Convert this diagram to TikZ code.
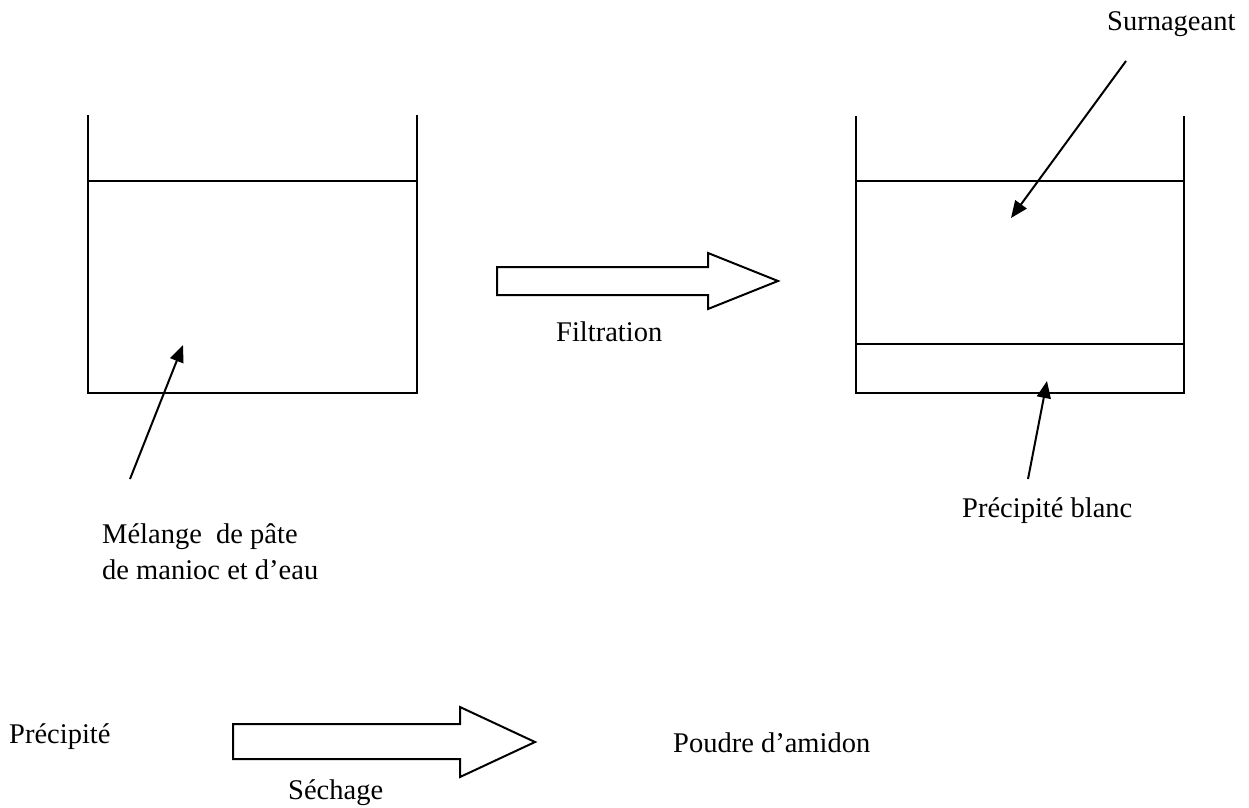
\documentclass[tikz,border=0pt]{standalone}
\usepackage{fontspec}
\setmainfont{Liberation Serif}
\usetikzlibrary{arrows.meta}
\tikzset{
  wall/.style={line width=2pt, line cap=butt},
  level/.style={line width=2pt},
  pointer/.style={line width=2pt, -{Triangle[length=17pt,width=14pt]}},
  blockarrow/.style={line width=2pt, fill=white, line join=miter},
  lbl/.style={inner sep=0pt, anchor=base west, font=\fontsize{28.5}{36}\selectfont}
}
\begin{document}
\begin{tikzpicture}[x=1pt,y=-1pt]
\useasboundingbox (0,0) rectangle (1249,807);

% left beaker
\draw[wall] (88,115) -- (88,393) -- (417,393) -- (417,115);
\draw[level] (88,181) -- (417,181);

% right beaker
\draw[wall] (856,116) -- (856,393) -- (1184,393) -- (1184,116);
\draw[level] (856,181) -- (1184,181);
\draw[level] (856,344) -- (1184,344);

% filtration block arrow
\draw[blockarrow] (497,267) -- (708,267) -- (708,253) -- (778,281) -- (708,309) -- (708,295) -- (497,295) -- cycle;
% sechage block arrow
\draw[blockarrow] (233,724) -- (460,724) -- (460,707) -- (535,742) -- (460,777) -- (460,759) -- (233,759) -- cycle;

% labels
\node[lbl] (melA) at (102,543) {Mélange\ \ de pâte};
\node[lbl] (melB) at (102,579) {de manioc et d’eau};
\node[lbl] (filt) at (556,341) {Filtration};
\node[lbl] (surn) at (1107,30) {Surnageant};
\node[lbl] (prb) at (962,517) {Précipité blanc};
\node[lbl] (prc) at (9,743) {Précipité};
\node[lbl] (sech) at (288,799) {Séchage};
\node[lbl] (poud) at (673,752) {Poudre d’amidon};

% pointer arrows
\coordinate (mixtail) at (130,479);
\coordinate (mixtip) at (183,345);
\coordinate (surntail) at (1126,61);
\coordinate (surntip) at (1011,218);
\coordinate (prbtail) at (1028,479);
\coordinate (prbtip) at (1047,381);
\draw[pointer] (mixtail) -- (mixtip);
\draw[pointer] (surntail) -- (surntip);
\draw[pointer] (prbtail) -- (prbtip);
\end{tikzpicture}
\end{document}
